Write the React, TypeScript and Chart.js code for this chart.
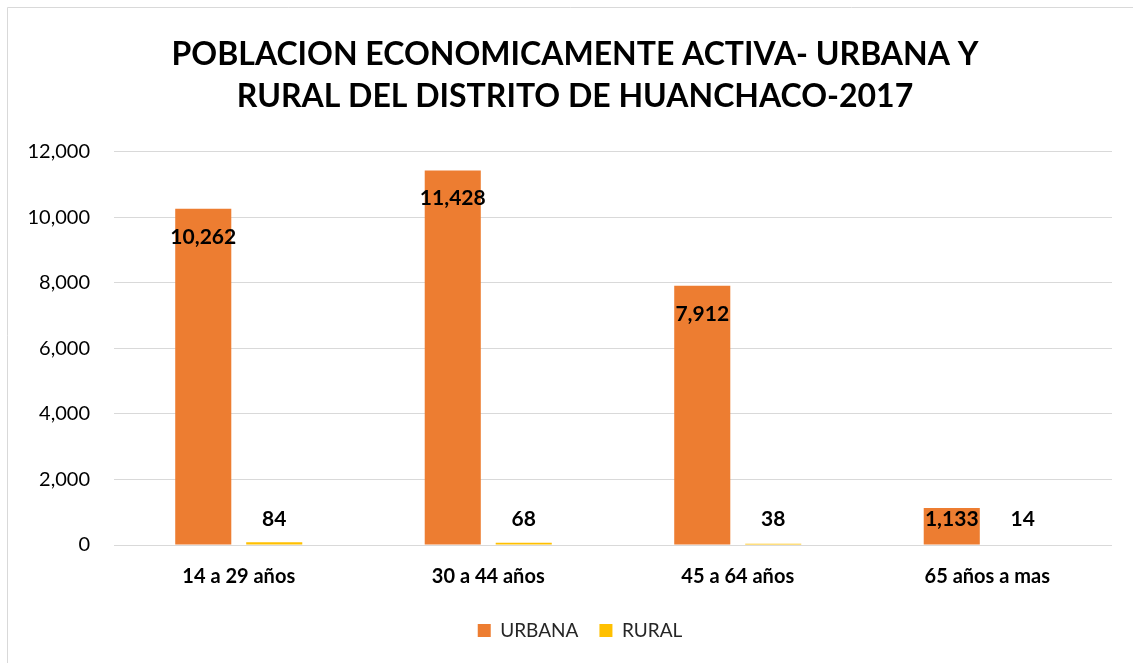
import React, { useEffect, useRef } from "react";
import { Chart, registerables } from "chart.js";

Chart.register(...registerables);

const TITLE_LINES = [
  "POBLACION ECONOMICAMENTE ACTIVA- URBANA Y",
  "RURAL DEL DISTRITO DE HUANCHACO-2017",
];
const CATEGORIES = ["14 a 29 años", "30 a 44 años", "45 a 64 años", "65 años a mas"];
const URBANA = [10262, 11428, 7912, 1133];
const RURAL = [84, 68, 38, 14];
const Y_MIN = 0;
const Y_MAX = 12000;
const Y_STEP = 2000;

const FONT = "Lato";
const fmt = (v: number) => v.toLocaleString("en-US");

const framePlugin = {
  id: "frame",
  afterLayout(chart: any) {
    // centre the title and legend on the chart frame (like the original)
    if (chart.titleBlock) {
      chart.titleBlock.left = 38;
    }
    if (chart.legend) {
      chart.legend.left = 48;
    }
  },
  beforeDraw(chart: any) {
    const { ctx, width, height } = chart;
    ctx.save();
    ctx.fillStyle = "#ffffff";
    ctx.fillRect(0, 0, width, height);
    ctx.strokeStyle = "#d9d9d9";
    ctx.lineWidth = 1;
    ctx.beginPath();
    ctx.moveTo(7.5, height);
    ctx.lineTo(7.5, 7.5);
    ctx.lineTo(width, 7.5);
    ctx.stroke();
    ctx.restore();
  },
};

const labelPlugin = {
  id: "valueLabels",
  afterDatasetsDraw(chart: any) {
    const { ctx } = chart;
    ctx.save();
    ctx.font = `bold 21px ${FONT}`;
    ctx.fillStyle = "#000000";
    ctx.textAlign = "center";
    ctx.textBaseline = "middle";
    chart.data.datasets.forEach((ds: any, di: number) => {
      const meta = chart.getDatasetMeta(di);
      meta.data.forEach((el: any, i: number) => {
        const v = ds.data[i];
        let y: number;
        if (di === 0) {
          y = Math.min(el.y + 28, el.base - 25);
        } else {
          y = Math.min(el.y - 22, el.base - 25);
        }
        ctx.fillText(fmt(v), el.x, y);
      });
    });
    ctx.restore();
  },
};

export default function App() {
  const ref = useRef<HTMLCanvasElement | null>(null);
  useEffect(() => {
    document.body.style.margin = "0";
    Chart.defaults.font.family = FONT;
    const chart = new Chart(ref.current as HTMLCanvasElement, {
      type: "bar",
      data: {
        labels: CATEGORIES,
        datasets: [
          {
            label: "URBANA",
            data: URBANA,
            backgroundColor: "#ED7D31",
            categoryPercentage: 0.569,
            barPercentage: 0.79,
          },
          {
            label: "RURAL",
            data: RURAL,
            backgroundColor: "#FFC000",
            categoryPercentage: 0.569,
            barPercentage: 0.79,
          },
        ],
      },
      options: {
        responsive: false,
        animation: false,
        devicePixelRatio: 1,
        layout: { padding: { left: 0, right: 21, top: 0, bottom: 13 } },
        plugins: {
          title: {
            display: true,
            text: TITLE_LINES,
            color: "#000000",
            font: { family: FONT, size: 32, weight: "bold", lineHeight: 1.31 },
            padding: { top: 34, bottom: 34 },
          },
          legend: {
            display: true,
            position: "bottom",
            labels: {
              boxWidth: 13,
              boxHeight: 13,
              padding: 21,
              color: "#262626",
              font: { family: FONT, size: 19 },
            },
          },
          tooltip: { enabled: false },
        },
        scales: {
          x: {
            grid: { display: false, drawTicks: false },
            border: { display: false },
            ticks: {
              color: "#000000",
              padding: 20,
              font: { family: FONT, size: 20, weight: "bold" },
            },
            afterFit: (s: any) => {
              s.height = 55;
            },
          },
          y: {
            min: Y_MIN,
            max: Y_MAX,
            grid: { color: "#d9d9d9", lineWidth: 1, drawTicks: false },
            border: { display: false },
            ticks: {
              stepSize: Y_STEP,
              color: "#000000",
              padding: 24,
              font: { family: FONT, size: 20 },
              callback: (v: any) => fmt(Number(v)),
            },
            afterFit: (s: any) => {
              s.width = 114;
            },
          },
        },
      },
      plugins: [framePlugin, labelPlugin],
    });
    return () => chart.destroy();
  }, []);
  return (
    <div style={{ position: "fixed", left: 0, top: 0, width: 1133, height: 663 }}>
      <canvas ref={ref} width={1133} height={663} style={{ display: "block" }} />
    </div>
  );
}
